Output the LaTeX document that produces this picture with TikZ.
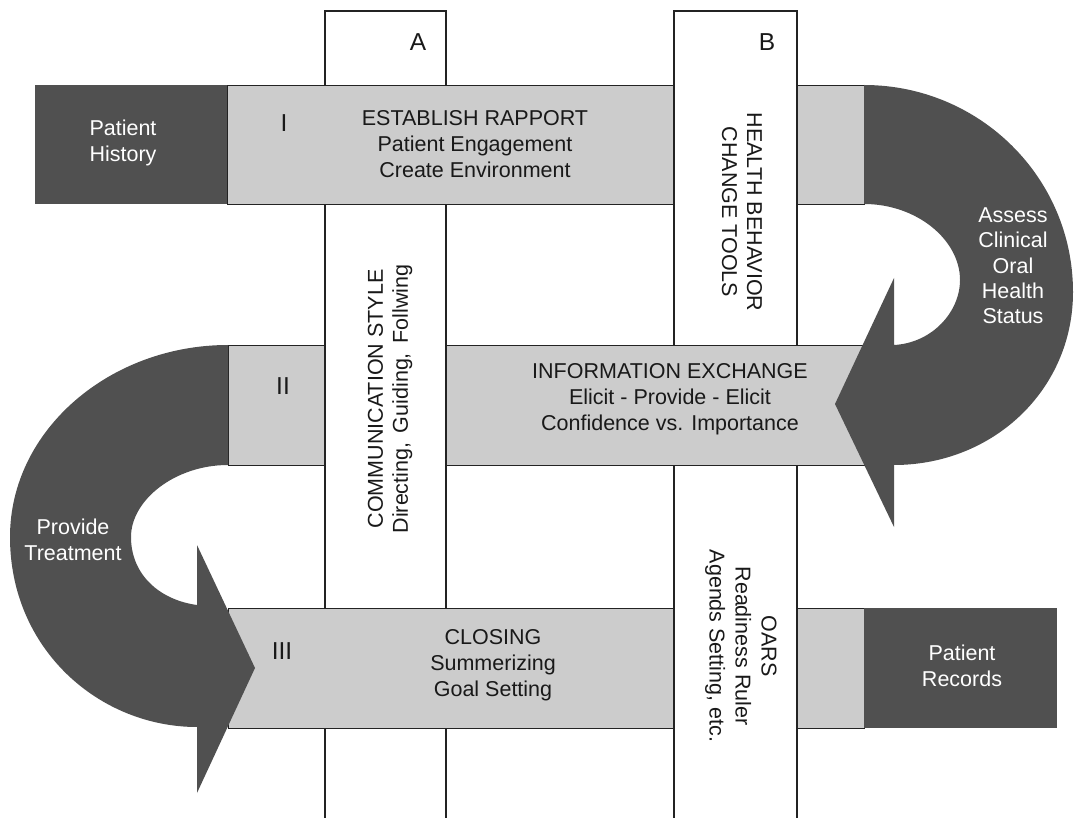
\documentclass[tikz,border=0pt]{standalone}
\usepackage{fontspec}
\setmainfont{Liberation Sans}
\definecolor{rowgray}{RGB}{204,204,204}
\definecolor{darkfill}{RGB}{80,80,80}
\definecolor{edgecol}{RGB}{35,35,35}
\definecolor{inkcol}{RGB}{25,25,25}
\begin{document}
\begin{tikzpicture}[x=1pt,y=-1pt,
  txt/.style={font=\fontsize{21.5}{26}\selectfont, text=inkcol, align=center, inner sep=0pt},
  bigtxt/.style={txt, font=\fontsize{24.5}{28}\selectfont},
  wtxt/.style={txt, text=white},
  rowbox/.style={fill=rowgray, draw=edgecol, line width=1.3pt, inner sep=0pt, anchor=north west},
  darkbox/.style={fill=darkfill, inner sep=0pt, anchor=north west},
  colline/.style={draw=edgecol, line width=1.3pt},
  darkshape/.style={fill=darkfill}
]
\useasboundingbox (0,0) rectangle (1077,818);

% columns (full height)
\fill[white] (325,11) rectangle (446,818);
\draw[colline] (325,818) -- (325,11) -- (446,11) -- (446,818);
\fill[white] (674,11) rectangle (797,818);
\draw[colline] (674,818) -- (674,11) -- (797,11) -- (797,818);

% rows
\node[rowbox, minimum width=637pt, minimum height=119pt] (rowI) at (227,85) {};
\node[rowbox, minimum width=636pt, minimum height=120pt] (rowII) at (228,345) {};
\node[rowbox, minimum width=636pt, minimum height=120pt] (rowIII) at (228,608) {};

% column pieces lying on top of rows
\fill[white] (674,83) rectangle (797,206);
\draw[colline] (674,83) -- (674,206) (797,83) -- (797,206);
\fill[white] (325,343) rectangle (446,467);
\draw[colline] (325,343) -- (325,467) (446,343) -- (446,467);
\fill[white] (674,606) rectangle (797,730);
\draw[colline] (674,606) -- (674,730) (797,606) -- (797,730);

% dark boxes
\node[darkbox, minimum width=192pt, minimum height=119pt] (hist) at (35,85) {};
\node[darkbox, minimum width=193pt, minimum height=120pt] (recs) at (864,608) {};

% right curved arrow
\fill[darkshape] (864,85) .. controls (979,85) and (1073,177) .. (1073,292)
  .. controls (1073,390) and (993,465) .. (894,465)
  -- (894,527) -- (835,404) -- (894,278) -- (894,345)
  .. controls (932,343) and (960,312) .. (960,280)
  .. controls (960,240) and (917,204) .. (864,204) -- cycle;

% left curved arrow
\fill[darkshape] (228,345) .. controls (110,345) and (10,430) .. (10,537)
  .. controls (10,650) and (100,727) .. (197,727)
  -- (197,793) -- (255,668) -- (197,545) -- (197,605)
  .. controls (160,600) and (131,575) .. (131,537)
  .. controls (131,500) and (175,465) .. (228,465) -- cycle;

% column labels
\node[bigtxt] (labA) at (418,42) {A};
\node[bigtxt] (labB) at (767,42) {B};

% row texts
\node[bigtxt] (numI) at (284,123) {I};
\node[txt] (txtI) at (475,144) {ESTABLISH RAPPORT\\Patient Engagement\\Create Environment};
\node[bigtxt] (numII) at (283,386) {II};
\node[txt] (txtII) at (670,399) {INFORMATION EXCHANGE\\Elicit - Provide - Elicit\\Confidence vs. Importance};
\node[bigtxt] (numIII) at (282,651) {III};
\node[txt] (txtIII) at (493,665) {CLOSING\\Summerizing\\Goal Setting};

% column texts
\node[txt, rotate=90, font=\fontsize{21.5}{25}\selectfont] (txtA) at (390,399) {COMMUNICATION STYLE\\Directing,\, Guiding,\, Follwing};
\node[txt, rotate=-90, font=\fontsize{21.5}{25}\selectfont] (txtB1) at (742,212) {HEALTH BEHAVIOR\\CHANGE TOOLS};
\node[txt, rotate=-90, font=\fontsize{21.5}{26}\selectfont] (txtB2) at (741,646) {OARS\\Readiness Ruler\\Agends Setting, etc.};

% white texts
\node[wtxt] (txtHist) at (123,143) {Patient\\History};
\node[wtxt] (txtRecs) at (962,666) {Patient\\Records};
\node[wtxt] (txtTreat) at (73,540) {Provide\\Treatment};
\node[wtxt, font=\fontsize{21.5}{25.3}\selectfont] (txtAssess) at (1013,266) {Assess\\Clinical\\Oral\\Health\\Status};
\end{tikzpicture}
\end{document}
